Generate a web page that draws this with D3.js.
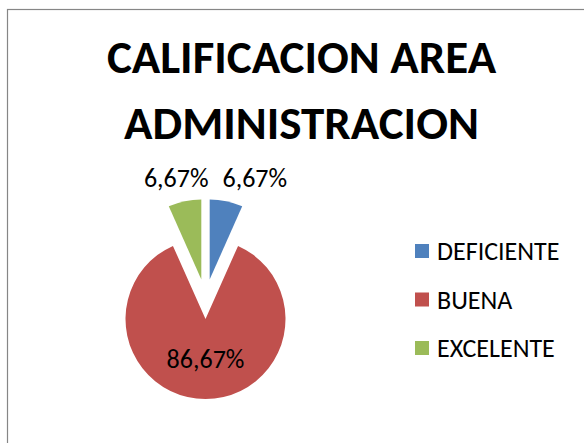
<!DOCTYPE html>
<html>
<head>
<meta charset="utf-8">
<script src="https://cdn.jsdelivr.net/npm/d3@7"></script>
<style>
  body { margin: 0; background: #fff; }
  svg { display: block; }
</style>
</head>
<body>
<svg id="chart"></svg>
<script>
// data
const categories = ["DEFICIENTE", "BUENA", "EXCELENTE"];
const values = [6.67, 86.67, 6.67];
const labels = ["6,67%", "86,67%", "6,67%"];
const titleLines = ["CALIFICACION AREA", "ADMINISTRACION"];
const colors = ["#4F81BD", "#C0504D", "#9BBB59"];

const width = 584;
const height = 443;
const font = "Carlito, Calibri, 'Liberation Sans', Arial, sans-serif";

// pie geometry
const cx = 205.5;
const cy = 299;
const radius = 80;
const explode = 20;

const svg = d3.select("#chart")
    .attr("width", width)
    .attr("height", height);

svg.append("rect")
    .attr("width", width).attr("height", height)
    .attr("fill", "#fff");

// chart frame (runs off the right and bottom edges)
svg.append("rect")
    .attr("x", 7.5).attr("y", 9.5)
    .attr("width", width + 10).attr("height", height + 10)
    .attr("fill", "none")
    .attr("stroke", "#868686")
    .attr("stroke-width", 1.2);

// title
svg.append("g")
    .attr("font-family", font)
    .attr("font-weight", "bold")
    .attr("font-size", 47)
    .attr("text-anchor", "middle")
    .attr("fill", "#000")
  .selectAll("text")
  .data(titleLines)
  .join("text")
    .attr("x", 301.5)
    .attr("y", (d, i) => 73 + i * 66)
    .text(d => d);

// pie
const pie = d3.pie().sort(null).value(d => d)(values);
const arc = d3.arc().innerRadius(0).outerRadius(radius);

const gPie = svg.append("g")
    .attr("transform", `translate(${cx},${cy})`);

const slice = gPie.selectAll("g")
  .data(pie)
  .join("g")
    .attr("transform", d => {
      const a = (d.startAngle + d.endAngle) / 2;
      return `translate(${Math.sin(a) * explode},${-Math.cos(a) * explode})`;
    });

slice.append("path")
    .attr("d", arc)
    .attr("fill", (d, i) => colors[i]);

// labels: the big slice gets its label inside, the small ones sit above
gPie.selectAll("text")
  .data(pie)
  .join("text")
    .attr("font-family", font)
    .attr("font-size", 26)
    .attr("fill", "#000")
    .attr("dominant-baseline", "central")
    .attr("text-anchor", (d, i) => {
      if (d.endAngle - d.startAngle > Math.PI) return "middle";
      return (d.startAngle + d.endAngle) / 2 < Math.PI ? "start" : "end";
    })
    .attr("x", d => {
      const a = (d.startAngle + d.endAngle) / 2;
      if (d.endAngle - d.startAngle > Math.PI) return arc.centroid(d)[0] + Math.sin(a) * explode;
      return a < Math.PI ? 17 : 3;
    })
    .attr("y", d => {
      const a = (d.startAngle + d.endAngle) / 2;
      if (d.endAngle - d.startAngle > Math.PI) return arc.centroid(d)[1] - Math.cos(a) * explode;
      return -radius - explode - 21;
    })
    .text((d, i) => labels[i]);

// legend
const legend = svg.append("g")
    .attr("transform", "translate(415,251)");

const item = legend.selectAll("g")
  .data(categories)
  .join("g")
    .attr("transform", (d, i) => `translate(0,${i * 48.5})`);

item.append("rect")
    .attr("x", 0).attr("y", -7)
    .attr("width", 14).attr("height", 14)
    .attr("fill", (d, i) => colors[i]);

item.append("text")
    .attr("x", 22)
    .attr("y", 0)
    .attr("dominant-baseline", "central")
    .attr("font-family", font)
    .attr("font-size", 26)
    .attr("fill", "#000")
    .text(d => d);
</script>
</body>
</html>
